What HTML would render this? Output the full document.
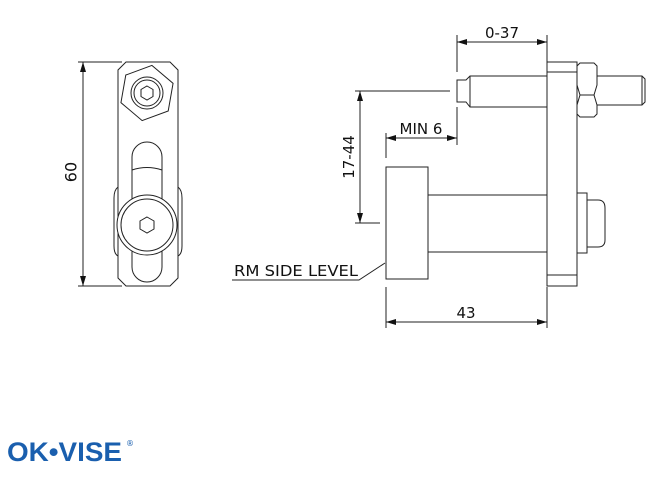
<!DOCTYPE html>
<html><head><style>
html,body{margin:0;padding:0;background:#fff;}
svg{display:block;}
text{font-family:"DejaVu Sans","Liberation Sans",sans-serif;fill:#111;}
</style></head><body>
<svg width="663" height="485" viewBox="0 0 663 485" xmlns="http://www.w3.org/2000/svg">
<defs>
<marker id="a" viewBox="0 0 10 6" refX="10" refY="3" markerWidth="10" markerHeight="6" orient="auto-start-reverse" markerUnits="userSpaceOnUse"><path d="M0,0 L10,3 L0,6z" fill="#111"/></marker>
</defs>
<g stroke="#222" stroke-width="1" fill="none">
<line x1="78" y1="62" x2="122" y2="62"/>
<line x1="78" y1="286" x2="122" y2="286"/>
<line x1="83" y1="62" x2="83" y2="286" marker-start="url(#a)" marker-end="url(#a)"/>
<path d="M126,62 L170,62 L178,70 L178,278 L170,286 L126,286 L118,278 L118,70 Z" fill="#fff"/>
<path d="M118,187 Q114,190 114,198 L114,246 Q114,254 118,256"/>
<path d="M178,187 Q182,190 182,198 L182,246 Q182,254 178,256"/>
<polygon points="147,65 171,79 171,107 147,121 123,107 123,79" transform="rotate(10 147 93)"/>
<circle cx="147" cy="93" r="16"/>
<circle cx="147" cy="93" r="13"/>
<polygon points="147,86 153,89.5 153,96.5 147,100 141,96.5 141,89.5"/>
<path d="M132,157 A15,15 0 0 1 162,157 L162,267 A15,15 0 0 1 132,267 Z"/>
<path d="M132,170 Q147,165 162,170"/>
<circle cx="147" cy="225" r="30" fill="#fff"/>
<circle cx="147" cy="225" r="26"/>
<polygon points="147,217 154,221 154,229 147,233 140,229 140,221"/>
<line x1="457" y1="35" x2="457" y2="72"/>
<line x1="547" y1="35" x2="547" y2="62"/>
<line x1="457" y1="42" x2="547" y2="42" marker-start="url(#a)" marker-end="url(#a)"/>
<rect x="547" y="62" width="30" height="224" fill="#fff"/>
<line x1="547" y1="72" x2="577" y2="72"/>
<line x1="547" y1="275" x2="577" y2="275"/>
<path d="M547,76 L470,76 L466,80 L457,80 L457,102 L466,102 L470,107 L547,107"/>
<line x1="470" y1="76" x2="470" y2="107"/>
<path d="M597,76 L642,76 L645,79 L645,102 L642,105 L597,105"/>
<line x1="642" y1="76" x2="642" y2="105"/>
<path d="M580,63 L594,63 L597,66 L597,85 L594,95 L597,105 L597,114 L594,117 L580,117 L577,114 L577,105 L580,95 L577,85 L577,66 Z" fill="#fff"/>
<line x1="580" y1="95" x2="594" y2="95"/>
<line x1="355" y1="91" x2="450" y2="91"/>
<line x1="355" y1="223" x2="380" y2="223"/>
<line x1="360" y1="91" x2="360" y2="223" marker-start="url(#a)" marker-end="url(#a)"/>
<line x1="386" y1="133" x2="386" y2="158"/>
<line x1="457" y1="107" x2="457" y2="145"/>
<line x1="386" y1="138" x2="457" y2="138" marker-start="url(#a)" marker-end="url(#a)"/>
<rect x="386" y="167" width="42" height="112" fill="#fff"/>
<path d="M428,195 L547,195 M428,252 L547,252"/>
<rect x="577" y="193" width="10" height="60"/>
<path d="M587,200 L598,200 Q605,200 605,208 L605,240 Q605,247 598,247 L587,247"/>
<line x1="386" y1="287" x2="386" y2="328"/>
<line x1="547" y1="287" x2="547" y2="328"/>
<line x1="386" y1="322" x2="547" y2="322" marker-start="url(#a)" marker-end="url(#a)"/>
<path d="M232,280 L359,280 L385,263"/>
</g>
<text x="72" y="172" font-size="16" text-anchor="middle" transform="rotate(-90 72 172)" dominant-baseline="middle">60</text>
<text x="502" y="38" font-size="15" text-anchor="middle">0-37</text>
<text x="421" y="134" font-size="15" text-anchor="middle">MIN 6</text>
<text x="354" y="157" font-size="15" text-anchor="middle" transform="rotate(-90 354 157)">17-44</text>
<text x="466" y="318" font-size="15" text-anchor="middle">43</text>
<text x="234" y="276" font-size="15" textLength="124" lengthAdjust="spacingAndGlyphs">RM SIDE LEVEL</text>
<text x="7" y="461" font-size="27" font-weight="bold" textLength="115" lengthAdjust="spacingAndGlyphs" style="font-family:'Liberation Sans',sans-serif;fill:#1a5fae">OK•VISE</text>
<text x="126" y="446" font-size="8" style="fill:#1a5fae">®</text>
</svg>
</body></html>
